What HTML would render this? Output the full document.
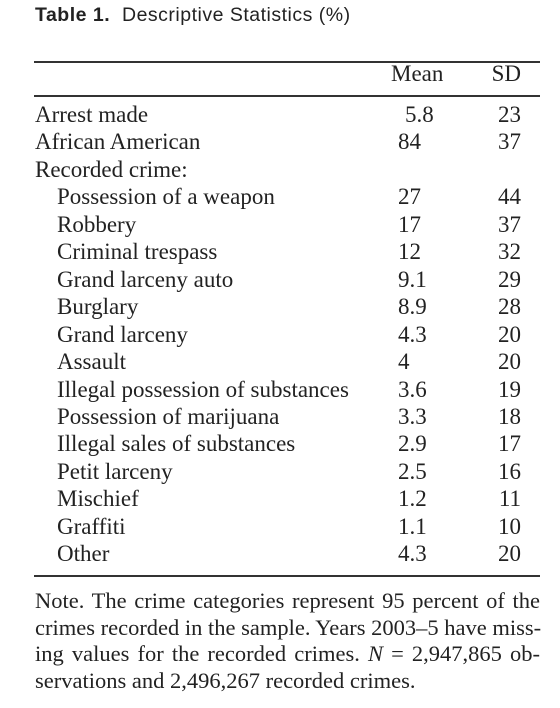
<!DOCTYPE html>
<html><head><meta charset="utf-8"><style>
body{margin:0;width:560px;height:708px;background:#fff;position:relative;overflow:hidden;font-family:"Liberation Serif",serif;color:#222}
.t{position:absolute;left:35px;top:4px;font-family:"Liberation Sans",sans-serif;font-size:19.5px;letter-spacing:0.5px}
.rule{position:absolute;left:34px;width:506px;height:1.5px;background:#333}
.r{position:absolute;left:0;width:560px;height:26px;font-size:23px;line-height:26px}
.r span{position:absolute;white-space:nowrap}
.l{left:35px}.l.i{left:57px}
.m{left:398px}
.s{right:39px}
.note{position:absolute;left:35px;width:505px;top:588px;font-size:22.5px;line-height:26.5px}
.note div{text-align:justify;text-align-last:justify;white-space:nowrap}
.note div.last{text-align-last:left}
</style></head><body>
<div class="t"><b>Table 1.</b>&nbsp; Descriptive Statistics (%)</div>
<div class="rule" style="top:61px"></div>
<div class="r" style="top:61px"><span style="left:391px">Mean</span><span class="s">SD</span></div>
<div class="rule" style="top:95px"></div>
<div id="rows"></div>
<div class="rule" style="top:575px"></div>
<div class="note">
<div>Note. The crime categories represent 95 percent of the</div>
<div>crimes recorded in the sample. Years 2003–5 have miss-</div>
<div>ing values for the recorded crimes. <i>N</i> = 2,947,865 ob-</div>
<div class="last">servations and 2,496,267 recorded crimes.</div>
</div>
<script>
const labels=["Arrest made","African American","Recorded crime:","Possession of a weapon","Robbery","Criminal trespass","Grand larceny auto","Burglary","Grand larceny","Assault","Illegal possession of substances","Possession of marijuana","Illegal sales of substances","Petit larceny","Mischief","Graffiti","Other"];
const means=["5.8","84","","27","17","12","9.1","8.9","4.3","4","3.6","3.3","2.9","2.5","1.2","1.1","4.3"];
const sds=["23","37","","44","37","32","29","28","20","20","19","18","17","16","11","10","20"];
const c=document.getElementById('rows');
labels.forEach((lab,i)=>{
  const r=document.createElement('div');
  r.className='r';r.style.top=(102+i*27.45)+'px';
  
  
  const a=document.createElement('span');a.className='l'+(i>2?' i':'');a.textContent=lab;
  
  
  const m=document.createElement('span');m.className='m';m.textContent=means[i];
  if(means[i]==='5.8')m.style.left='405px';
  
  
  const s=document.createElement('span');s.className='s';s.textContent=sds[i];
  
  
  r.append(a,m,s);c.appendChild(r);
});
</script>
</body></html>
